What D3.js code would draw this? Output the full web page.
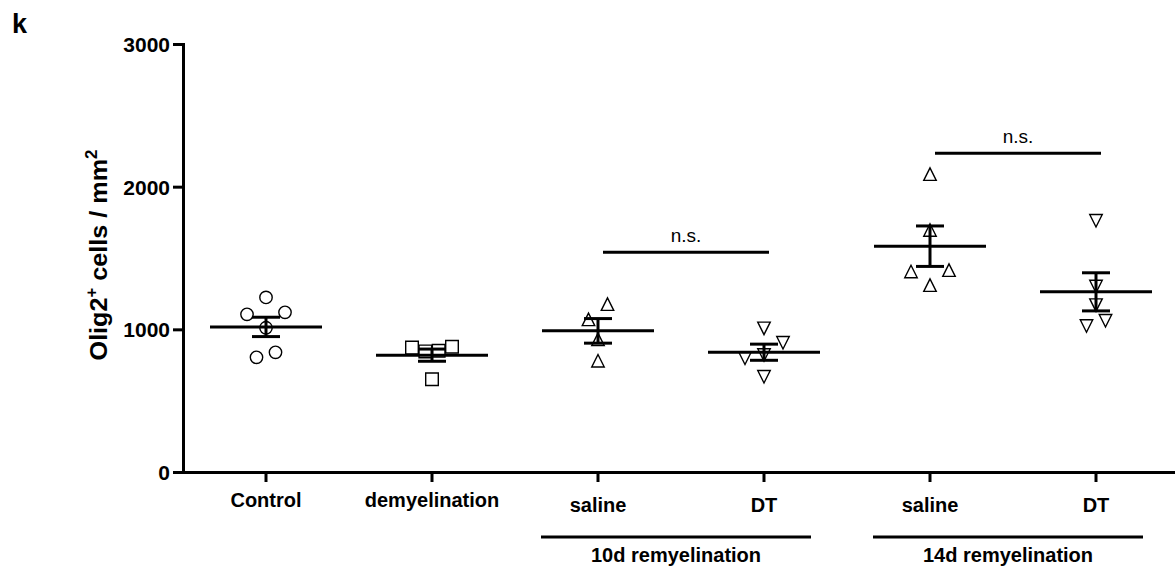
<!DOCTYPE html>
<html>
<head>
<meta charset="utf-8">
<script src="https://cdn.jsdelivr.net/npm/d3@7"></script>
<style>
  html, body { margin: 0; padding: 0; background: #fff; }
  svg { display: block; font-family: "Liberation Sans", Arial, sans-serif; }
</style>
</head>
<body>
<svg id="chart" width="1175" height="570"></svg>
<script>
// ---- data ----
const categoryKeys   = ["control", "demyelination", "saline10", "dt10", "saline14", "dt14"];
const categoryLabels = ["Control", "demyelination", "saline", "DT", "saline", "DT"];
const markerShapes   = ["circle", "square", "triangleUp", "triangleDown", "triangleUp", "triangleDown"];
const subGrouped     = [false, false, true, true, true, true];

// Olig2+ cells / mm2, one value per animal
const controlValues       = [1224, 1011, 1105, 1119, 804, 839];
const demyelinationValues = [845, 850, 872, 878, 650];
const saline10Values      = [1070, 1177, 930, 780];
const dt10Values          = [820, 797, 906, 1007, 668];
const saline14Values      = [1310, 1405, 1415, 1696, 2088];
const dt14Values          = [1023, 1060, 1170, 1300, 1761];
const seriesValues = [controlValues, demyelinationValues, saline10Values, dt10Values, saline14Values, dt14Values];

const yTickValues = [0, 1000, 2000, 3000];

const timeGroups = [
  { label: "10d remyelination", first: "saline10", last: "dt10" },
  { label: "14d remyelination", first: "saline14", last: "dt14" }
];
const comparisons = [
  { from: "saline10", to: "dt10", level: 1540, label: "n.s." },
  { from: "saline14", to: "dt14", level: 2235, label: "n.s." }
];

// ---- layout ----
const svg = d3.select("#chart");
const axisLeftX = 183, axisBottomY = 472, axisTopY = 44;

const x = d3.scaleBand().domain(categoryKeys).range([axisLeftX, axisLeftX + 996]).padding(0);
const cx = k => x(k) + x.bandwidth() / 2;
const y = d3.scaleLinear().domain([0, 3000]).range([axisBottomY, axisTopY]);

// ---- axes ----
const yAxis = svg.append("g")
  .attr("transform", `translate(${axisLeftX},0)`)
  .call(d3.axisLeft(y).tickValues(yTickValues).tickSize(10).tickSizeOuter(0).tickPadding(3).tickFormat(d3.format("d")));

const xAxis = svg.append("g")
  .attr("transform", `translate(0,${axisBottomY})`)
  .call(d3.axisBottom(x).tickSize(10).tickSizeOuter(0).tickPadding(0)
        .tickFormat((d, i) => categoryLabels[i]));

[yAxis, xAxis].forEach(g => {
  g.select(".domain").attr("stroke", "#000").attr("stroke-width", 3).attr("stroke-linecap", "square");
  g.selectAll(".tick line").attr("stroke", "#000").attr("stroke-width", 3);
  g.selectAll(".tick text").attr("fill", "#000").attr("font-weight", "bold");
});
yAxis.selectAll(".tick text").attr("font-size", 21).attr("dy", "0.36em");
xAxis.selectAll(".tick text")
  .attr("font-size", 20)
  .attr("dy", null)
  .attr("y", (d, i) => subGrouped[i] ? 40 : 35)
  .attr("dominant-baseline", "alphabetic");

// y-axis title
const yTitle = svg.append("text")
  .attr("transform", "translate(107,255) rotate(-90) scale(1.05,1)")
  .attr("text-anchor", "middle")
  .attr("font-size", 24)
  .attr("font-weight", "bold")
  .attr("fill", "#000");
yTitle.append("tspan").text("Olig2");
yTitle.append("tspan").attr("dy", -10).attr("font-size", 16).text("+");
yTitle.append("tspan").attr("dy", 10).text(" cells / mm");
yTitle.append("tspan").attr("dy", -10).attr("font-size", 16).text("2");

// panel letter
svg.append("text").attr("x", 12).attr("y", 33)
  .attr("font-size", 27).attr("font-weight", "bold").text("k");

// time-point brackets under the axis
timeGroups.forEach(g => {
  const x0 = cx(g.first) - 57, x1 = cx(g.last) + 47;
  svg.append("line").attr("x1", x0).attr("x2", x1).attr("y1", 537).attr("y2", 537)
    .attr("stroke", "#000").attr("stroke-width", 3);
  svg.append("text").attr("x", (x0 + x1) / 2).attr("y", 562)
    .attr("text-anchor", "middle").attr("font-size", 20).attr("font-weight", "bold")
    .text(g.label);
});

// ---- markers ----
const tri = (w, h, down) => ({
  draw(ctx) {
    const s = down ? -1 : 1;
    ctx.moveTo(0, -s * h / 2);
    ctx.lineTo(w / 2, s * h / 2);
    ctx.lineTo(-w / 2, s * h / 2);
    ctx.closePath();
  }
});
const square = {
  draw(ctx) { const a = 6.3; ctx.rect(-a, -a, 2 * a, 2 * a); }
};
const circle = {
  draw(ctx) { ctx.moveTo(6.2, 0); ctx.arc(0, 0, 6.2, 0, 2 * Math.PI); }
};
const shapeTypes = {
  circle: circle,
  square: square,
  triangleUp: tri(12.5, 12.5, false),
  triangleDown: tri(12.5, 12.5, true)
};

// spread points that sit at nearly the same height side by side
function spreadOffsets(values) {
  const pxThreshold = 17;
  const idx = values.map((v, i) => i).sort((a, b) => values[a] - values[b]);
  const groups = [];
  let cur = null;
  idx.forEach(i => {
    if (cur && (y(values[cur.start]) - y(values[i])) < pxThreshold) cur.members.push(i);
    else { cur = { start: i, members: [i] }; groups.push(cur); }
  });
  const offsets = new Array(values.length).fill(0);
  groups.forEach(g => {
    const m = g.members.slice().sort((a, b) => a - b);   // entry order
    const k = m.length;
    if (k === 1) return;
    const step = Math.min(19, 40 / (k - 1));
    const slots = [];
    if (k % 2) { slots.push(0); for (let j = 1; slots.length < k; j++) slots.push(-j, j); }
    else { for (let j = 0.5; slots.length < k; j++) slots.push(-j, j); }
    m.forEach((i, n) => offsets[i] = slots[n] * step);
  });
  return offsets;
}

const plot = svg.append("g");
categoryKeys.forEach((key, ci) => {
  const vals = seriesValues[ci];
  const offs = spreadOffsets(vals);
  const sym = d3.symbol().type(shapeTypes[markerShapes[ci]]);
  plot.append("g").selectAll("path")
    .data(vals)
    .join("path")
    .attr("d", sym)
    .attr("transform", (d, i) => `translate(${cx(key) + offs[i]},${y(d)})`)
    .attr("fill", "none")
    .attr("stroke", "#000")
    .attr("stroke-width", 1.4);

  // mean ± SEM
  const mean = d3.mean(vals);
  const sem = d3.deviation(vals) / Math.sqrt(vals.length);
  const c = cx(key);
  const g = plot.append("g").attr("stroke", "#000").attr("stroke-width", 3);
  g.append("line").attr("x1", c - 56).attr("x2", c + 56).attr("y1", y(mean)).attr("y2", y(mean));
  g.append("line").attr("x1", c).attr("x2", c).attr("y1", y(mean - sem)).attr("y2", y(mean + sem));
  g.append("line").attr("x1", c - 14).attr("x2", c + 14).attr("y1", y(mean + sem)).attr("y2", y(mean + sem));
  g.append("line").attr("x1", c - 14).attr("x2", c + 14).attr("y1", y(mean - sem)).attr("y2", y(mean - sem));
});

// ---- significance bars ----
comparisons.forEach(cmp => {
  const x0 = cx(cmp.from) + 5, x1 = cx(cmp.to) + 5, yy = y(cmp.level);
  svg.append("line").attr("x1", x0).attr("x2", x1).attr("y1", yy).attr("y2", yy)
    .attr("stroke", "#000").attr("stroke-width", 3);
  svg.append("text").attr("x", (x0 + x1) / 2).attr("y", yy - 10)
    .attr("text-anchor", "middle").attr("font-size", 19).attr("fill", "#000")
    .text(cmp.label);
});
</script>
</body>
</html>
